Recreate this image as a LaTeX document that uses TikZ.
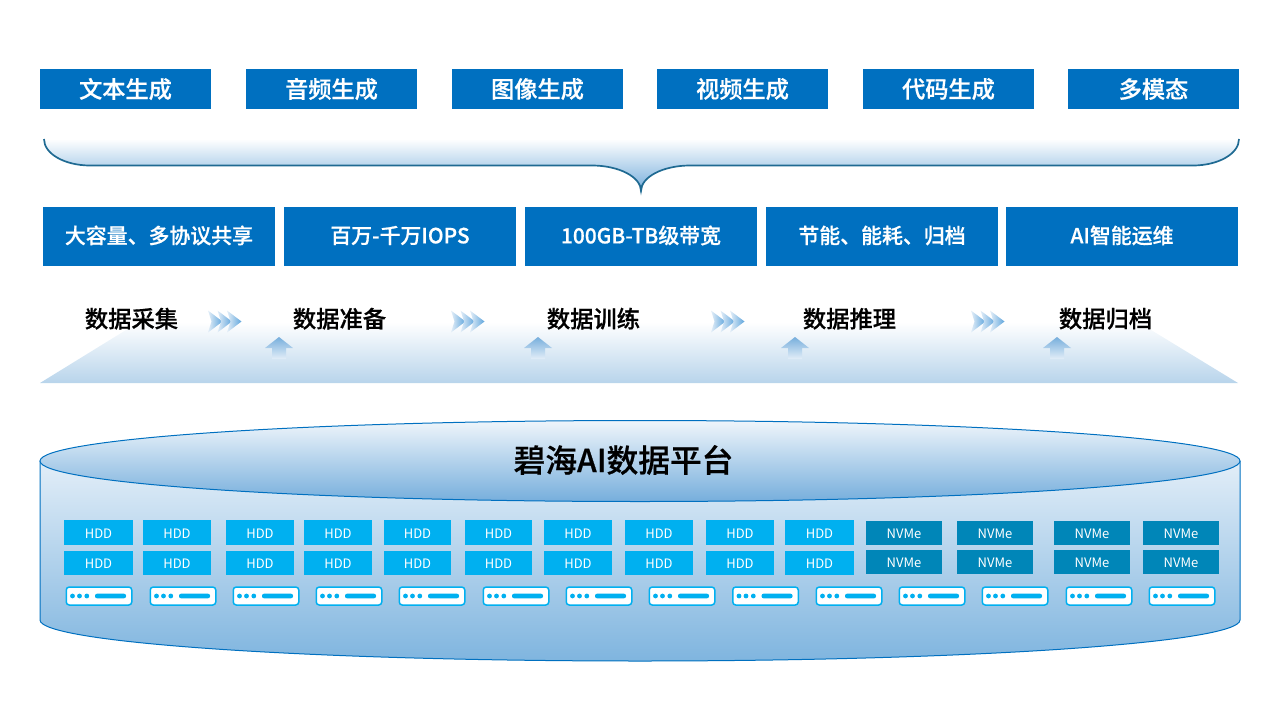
\documentclass[tikz,border=0pt]{standalone}
\usepackage{fontspec}
\setmainfont{Noto Sans CJK SC}[BoldFont={Noto Sans CJK SC Medium},BoldFeatures={FakeBold=0.6}]
\newcommand\lowertext[1]{\raisebox{-1pt}[\height][\depth]{#1}}
\newcommand\raisetext[1]{\raisebox{1pt}[\height][\depth]{#1}}
\definecolor{boxblue}{HTML}{0070C0}
\definecolor{hddblue}{HTML}{00B0F0}
\definecolor{nvmeblue}{HTML}{0086B8}
\definecolor{bracketline}{HTML}{1F6A92}
\definecolor{shadeblue}{HTML}{76AEDC}
\definecolor{bodyblue}{HTML}{7FB5DF}
\definecolor{rampblue}{HTML}{B8D4EB}
\definecolor{paleblue}{HTML}{E3EEF8}
\definecolor{chevblue}{HTML}{5FA5DC}
\tikzset{
  capbox/.style={fill=boxblue,text=white,inner sep=0pt,minimum height=40pt,minimum width=171pt,font=\fontsize{23.2}{25}\selectfont\bfseries},
  featbox/.style={fill=boxblue,text=white,inner sep=0pt,minimum height=59pt,minimum width=232pt,font=\fontsize{20.9}{24}\selectfont\bfseries},
  stagelabel/.style={text=black,inner sep=0pt,font=\fontsize{23.3}{26}\selectfont\bfseries},
  hddbox/.style={fill=hddblue,text=white,inner sep=0pt,font=\fontsize{13}{15}\selectfont},
  nvmebox/.style={fill=nvmeblue,text=white,inner sep=0pt,minimum width=76pt,minimum height=24pt,font=\fontsize{13}{15}\selectfont},
  serverbox/.style={draw=hddblue,fill=white,line width=1.5pt,rounded corners=3pt,inner sep=0pt,minimum width=65.5pt,minimum height=18pt},
  chev/.style={left color=paleblue,right color=chevblue},
  uparrow/.style={top color=shadeblue,bottom color=paleblue},
}
\begin{document}
\begin{tikzpicture}[x=1pt,y=-1pt]
\useasboundingbox (0,0) rectangle (1280,720);
% top row
\foreach \n/\c/\t in {a/125.5/文本生成,b/331.5/音频生成,c/537.5/图像生成,d/742.5/视频生成,e/948.5/代码生成,f/1153.5/多模态}
  \node[capbox] (cap\n) at (\c,89) {\t};
% bracket
\shade[top color=white,bottom color=shadeblue] (44,139) .. controls (44,154) and (65,165.5) .. (90,165.5) -- (592,165.5) .. controls (619,165.5) and (641,177) .. (641,191) .. controls (641,177) and (663,165.5) .. (690,165.5) -- (1193,165.5) .. controls (1218,165.5) and (1239,154) .. (1239,139) -- cycle;
\draw[bracketline,line width=1.7pt] (44,139) .. controls (44,154) and (65,165.5) .. (90,165.5) -- (592,165.5) .. controls (619,165.5) and (641,177) .. (641,191) .. controls (641,177) and (663,165.5) .. (690,165.5) -- (1193,165.5) .. controls (1218,165.5) and (1239,154) .. (1239,139);
% features
\node[featbox] (feata) at (159,236.5) {\raisetext{大容量、多协议共享}};
\node[featbox] (featb) at (400,236.5) {\raisetext{百万-千万IOPS}};
\node[featbox] (featc) at (641,236.5) {\raisetext{100GB-TB级带宽}};
\node[featbox] (featd) at (882,236.5) {\raisetext{节能、能耗、归档}};
\node[featbox] (feate) at (1122,236.5) {\raisetext{AI智能运维}};
% ramp
\shade[top color=white,bottom color=rampblue] (40,383) -- (139,322) -- (1138,322) -- (1238,383) -- cycle;
% stage labels
\foreach \n/\c/\t in {a/131.5/数据采集,b/339.5/数据准备,c/593.5/数据训练,d/849.5/数据推理,e/1105.5/数据归档}
  \node[stagelabel] (stage\n) at (\c,318.7) {\t};
% chevrons
\foreach \x in {208,451,711,971}{
  \foreach \d in {0,9.5,19}{
    \shade[chev] (\x+\d,310.5) -- (\x+\d+14.5,321.5) -- (\x+\d,332.5) -- (\x+\d+3.5,321.5) -- cycle;
  }
}
% up arrows
\foreach \x in {279,538,795,1057}{
  \shade[uparrow] (\x,337) -- (\x+14,348) -- (\x+7,348) -- (\x+7,359) -- (\x-7,359) -- (\x-7,348) -- (\x-14,348) -- cycle;
}
% cylinder
\shade[top color=paleblue,bottom color=bodyblue] (40,461) -- (40,620) arc[start angle=180,end angle=0,x radius=600,y radius=41] -- (1240,461) -- cycle;
\draw[boxblue,line width=1pt] (40,461) -- (40,620) arc[start angle=180,end angle=0,x radius=600,y radius=41] -- (1240,461);
\shade[top color=paleblue!55!white,bottom color=shadeblue] (640,461) ellipse[x radius=600,y radius=40.5];
\draw[boxblue,line width=1pt] (640,461) ellipse[x radius=600,y radius=40.5];
\node[text=black,inner sep=0pt,font=\fontsize{31.7}{34}\selectfont\bfseries] (title) at (623.5,460) {碧海AI数据平台};
% HDD grid
\foreach \i/\c/\w in {1/98.5/69,2/177/68,3/260/68,4/338/68,5/417.5/67,6/498.5/67,7/578/68,8/659/68,9/740/68,10/819.5/69}{
  \node[hddbox,minimum width=\w pt,minimum height=25pt] (hdda\i) at (\c,532.5) {\lowertext{HDD}};
  \node[hddbox,minimum width=\w pt,minimum height=24pt] (hddb\i) at (\c,563) {\lowertext{HDD}};
}
% NVMe grid
\foreach \i/\c in {1/904,2/995,3/1092,4/1181}{
  \node[nvmebox] (nvmea\i) at (\c,533) {\lowertext{NVMe}};
  \node[nvmebox] (nvmeb\i) at (\c,562) {\lowertext{NVMe}};
}
% servers
\foreach \i/\x in {1/65.5,2/149.5,3/232.5,4/315.5,5/398.5,6/482.5,7/565.5,8/648.5,9/732,10/815.5,11/898.5,12/981.5,13/1065.5,14/1148.5}{
  \node[serverbox,anchor=west] (srv\i) at (\x,596) {};
  \fill[hddblue] (\x+7,596) circle[radius=2.4] (\x+14,596) circle[radius=2.4] (\x+21.3,596) circle[radius=2.4];
  \fill[hddblue,rounded corners=2pt] (\x+29.5,593.7) rectangle (\x+60.5,598.3);
}
\end{tikzpicture}
\end{document}
